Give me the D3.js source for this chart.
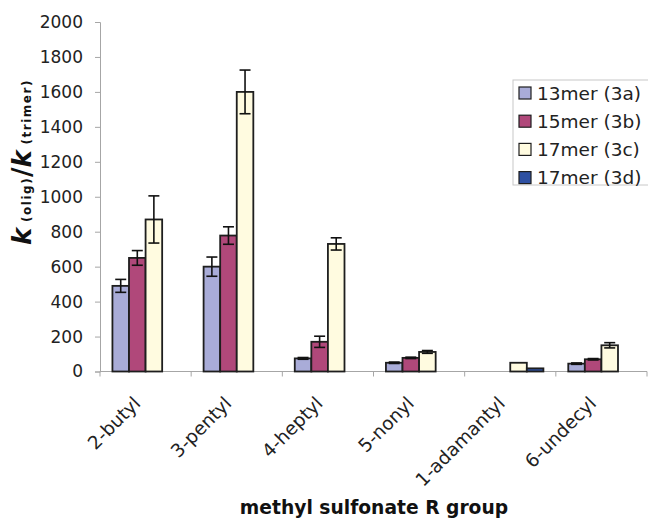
<!DOCTYPE html>
<html><head><meta charset="utf-8">
<script src="https://cdn.jsdelivr.net/npm/d3@7"></script>
<style>body{margin:0;background:#fff}svg{display:block}text{font-family:"DejaVu Sans",Verdana,sans-serif}</style>
</head><body><svg id="c" width="648" height="518"></svg>
<script>
const categories = ["2-butyl","3-pentyl","4-heptyl","5-nonyl","1-adamantyl","6-undecyl"];
const seriesNames = ["13mer (3a)","15mer (3b)","17mer (3c)","17mer (3d)"];
const s3a = [490, 600, 75, 50, null, 45];
const s3b = [650, 778, 170, 78, null, 70];
const s3c = [870, 1600, 730, 112, 50, 150];
const s3d = [null, null, null, null, 18, null];
const e3a = [37, 55, 5, 4, 0, 4];
const e3b = [42, 50, 32, 4, 0, 4];
const e3c = [135, 125, 35, 8, 0, 15];
const e3d = [0, 0, 0, 0, 0, 0];
const yTicks = [0,200,400,600,800,1000,1200,1400,1600,1800,2000];
const colors = ["#a9acd8","#b0487a","#fffbe0","#2e50a2"];

const values = [s3a,s3b,s3c,s3d], errs = [e3a,e3b,e3c,e3d];
const svg = d3.select("#c");
const x0 = d3.scaleBand().domain(categories).range([100,647]).paddingInner(0).paddingOuter(0);
// Excel style: gap 150% of bar => bar = band/5.5
const bw = x0.bandwidth()/5.5;
const y = d3.scaleLinear().domain([0,2000]).range([371.5,22]);

// y axis
const ya = svg.append("g").attr("transform","translate(100,0)")
  .call(d3.axisLeft(y).tickValues(yTicks).tickSize(5).tickPadding(12).tickFormat(d3.format("d")));
ya.select(".domain").attr("stroke","#a6a6a6");
ya.selectAll(".tick line").attr("stroke","#a6a6a6");
ya.selectAll("text").attr("font-size",17).attr("fill","#222");

// x axis
const xa = svg.append("g").attr("transform","translate(0,371.5)");
xa.append("line").attr("x1",100).attr("x2",647).attr("stroke","#a6a6a6");
const bounds = categories.map(c=>x0(c)).concat([647]);
xa.selectAll("line.t").data(bounds).join("line").attr("class","t")
  .attr("x1",d=>d).attr("x2",d=>d).attr("y1",0).attr("y2",5).attr("stroke","#a6a6a6");
xa.selectAll("text").data(categories).join("text")
  .attr("transform",d=>`translate(${x0(d)+x0.bandwidth()/2-4},${33}) rotate(-45)`)
  .attr("text-anchor","end").attr("font-size",18.5).attr("fill","#222").text(d=>d);

// bars
values.forEach((vals,si)=>{
  const g = svg.append("g");
  categories.forEach((c,ci)=>{
    const v = vals[ci]; if(v==null) return;
    const bx = x0(c) + bw*0.75 + si*bw;
    g.append("rect").attr("x",bx).attr("y",y(v)).attr("width",bw).attr("height",y(0)-y(v))
      .attr("fill",colors[si]).attr("stroke","#1e1e1e").attr("stroke-width",1.8);
    const e = errs[si][ci];
    if(e>0){
      const cx = bx+bw/2;
      g.append("line").attr("x1",cx).attr("x2",cx).attr("y1",y(v+e)).attr("y2",y(v-e)).attr("stroke","#111").attr("stroke-width",1.6);
      [v+e,v-e].forEach(t=>g.append("line").attr("x1",cx-5.5).attr("x2",cx+5.5).attr("y1",y(t)).attr("y2",y(t)).attr("stroke","#111").attr("stroke-width",1.6));
    }
  });
});

// legend
const lg = svg.append("g");
lg.append("rect").attr("x",513).attr("y",80).attr("width",140).attr("height",105).attr("fill","#fff").attr("stroke","#c8c8c8");
seriesNames.forEach((n,i)=>{
  const cy = 93 + i*28.2;
  lg.append("rect").attr("x",519).attr("y",cy-6).attr("width",12).attr("height",12).attr("fill",colors[i]).attr("stroke","#1e1e1e").attr("stroke-width",1.2);
  lg.append("text").attr("x",537).attr("y",cy+6.7).attr("font-size",18.5).attr("fill","#222").text(n);
});

// axis titles
svg.append("text").attr("x",374).attr("y",514).attr("text-anchor","middle").attr("font-weight","bold").attr("font-size",18.7).attr("fill","#111").text("methyl sulfonate R group");
const yt = svg.append("text").attr("transform","translate(31,162) rotate(-90)").attr("text-anchor","middle").attr("fill","#111").attr("font-weight","bold");
yt.append("tspan").attr("font-size",26).attr("font-style","italic").text("k");
yt.append("tspan").attr("font-size",12).attr("letter-spacing",1.5).text(" (olig)");
yt.append("tspan").attr("font-size",26).text("/");
yt.append("tspan").attr("font-size",26).attr("font-style","italic").text("k");
yt.append("tspan").attr("font-size",12).attr("letter-spacing",1.5).text(" (trimer)");
</script></body></html>
